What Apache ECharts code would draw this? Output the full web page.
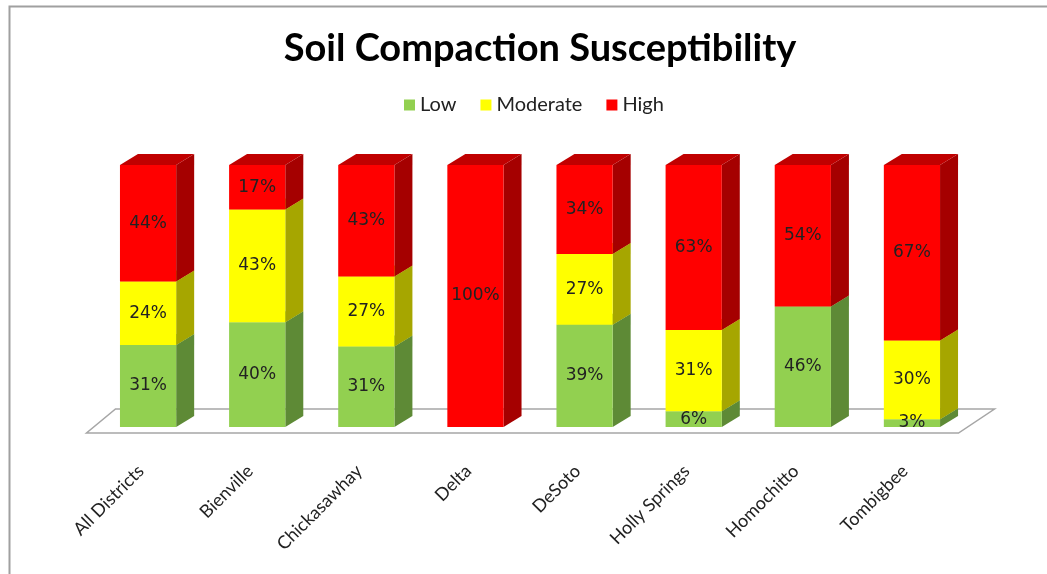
<!DOCTYPE html>
<html>
<head>
<meta charset="UTF-8">
<title>Soil Compaction Susceptibility</title>
<script src="https://cdn.jsdelivr.net/npm/echarts@6/dist/echarts.min.js"></script>
<style>
  html, body { margin: 0; padding: 0; background: #fff; }
</style>
</head>
<body>
<div id="main" style="width: 1047px; height: 574px;"></div>
<script type="text/javascript">
var districts = ['All Districts', 'Bienville', 'Chickasawhay', 'Delta', 'DeSoto', 'Holly Springs', 'Homochitto', 'Tombigbee'];
var lowPct = [31, 40, 31, 0, 39, 6, 46, 3];
var moderatePct = [24, 43, 27, 0, 27, 31, 0, 30];
var highPct = [44, 17, 43, 100, 34, 63, 54, 67];

var levels = [
  { name: 'Low', values: lowPct, front: '#92D050', side: '#5E8A36', top: '#7AAF42' },
  { name: 'Moderate', values: moderatePct, front: '#FFFF00', side: '#A6A600', top: '#D4D400' },
  { name: 'High', values: highPct, front: '#FF0000', side: '#A50000', top: '#C00000' }
];

// 100% stacked: each bar fills the full height, so scale by the row total
function stackRows(levelIndex) {
  var rows = [];
  for (var i = 0; i < districts.length; i++) {
    var total = lowPct[i] + moderatePct[i] + highPct[i];
    var base = 0;
    for (var k = 0; k < levelIndex; k++) base += levels[k].values[i];
    var v = levels[levelIndex].values[i];
    rows.push([i, base / total * 100, (base + v) / total * 100, v]);
  }
  return rows;
}

var DX = 18, DY = 11;

function makeRender(level) {
  return function (params, api) {
    var v = api.value(3);
    if (!v) return;
    var cat = api.value(0);
    var pb = api.coord([cat, api.value(1)]);
    var pt = api.coord([cat, api.value(2)]);
    var w = api.size([1, 0])[0] * 0.515;
    var x0 = pb[0] - w / 2, x1 = x0 + w, yb = pb[1], yt = pt[1];
    return {
      type: 'group',
      children: [
        { type: 'polygon', shape: { points: [[x1, yb], [x1 + DX, yb - DY], [x1 + DX, yt - DY], [x1, yt]] },
          style: { fill: level.side } },
        { type: 'polygon', shape: { points: [[x0, yt], [x1, yt], [x1 + DX, yt - DY], [x0 + DX, yt - DY]] },
          style: { fill: level.top } },
        { type: 'rect', shape: { x: x0, y: yt, width: w, height: yb - yt },
          style: { fill: level.front } },
        // labels sit above every segment, even the thin ones
        { type: 'text', z2: 100, x: (x0 + x1) / 2, y: (yt + yb) / 2,
          style: { text: v + '%', fill: '#222', font: '17px "DejaVu Sans"', align: 'center', verticalAlign: 'middle' } }
      ]
    };
  };
}

function renderFloor(params, api) {
  var cs = params.coordSys;
  var bottom = cs.y + cs.height, left = cs.x, right = cs.x + cs.width;
  return {
    type: 'polygon',
    shape: { points: [[left - 7, bottom + 6], [right - 8, bottom + 6], [right + 28, bottom - 18], [left + 22, bottom - 18]] },
    style: { fill: '#fff', stroke: '#a6a6a6', lineWidth: 1.5 }
  };
}

var series = [{
  type: 'custom',
  name: 'floor',
  z: 1,
  silent: true,
  renderItem: renderFloor,
  data: [[0, 0]],
  encode: { x: 0, y: 1 }
}];
levels.forEach(function (level, idx) {
  series.push({
    type: 'custom',
    name: level.name,
    z: 2,
    itemStyle: { color: level.front },
    renderItem: makeRender(level),
    data: stackRows(idx),
    encode: { x: 0, y: 2 }
  });
});

var myChart = echarts.init(document.getElementById('main'));
var option = {
  animation: false,
  title: {
    text: 'Soil Compaction Susceptibility',
    left: 535,
    textAlign: 'center',
    top: 25,
    textStyle: { fontFamily: 'Lato', fontWeight: 'bold', fontSize: 38, color: '#000' }
  },
  legend: {
    data: ['Low', 'Moderate', 'High'],
    left: 399,
    top: 90,
    itemWidth: 11,
    itemHeight: 11,
    itemGap: 24,
    icon: 'rect',
    textStyle: { fontFamily: 'Lato', fontSize: 20, color: '#222' }
  },
  grid: {
    left: 93.5,
    right: 80.5,
    top: 165,
    bottom: 147,
    outerBoundsMode: 'none'
  },
  xAxis: {
    type: 'category',
    data: districts,
    axisLine: { show: false },
    axisTick: { show: false },
    axisLabel: { rotate: 45, margin: 34, padding: [0, 10, 0, 0], interval: 0, fontFamily: 'Lato', fontSize: 18, color: '#222' }
  },
  yAxis: {
    type: 'value',
    min: 0,
    max: 100,
    show: false,
    splitLine: { show: false }
  },
  graphic: [{
    type: 'rect',
    shape: { x: 9.5, y: 6.5, width: 1100, height: 600 },
    style: { fill: 'none', stroke: '#a0a0a0', lineWidth: 2 },
    silent: true
  }],
  series: series
};
myChart.setOption(option);
</script>
</body>
</html>
